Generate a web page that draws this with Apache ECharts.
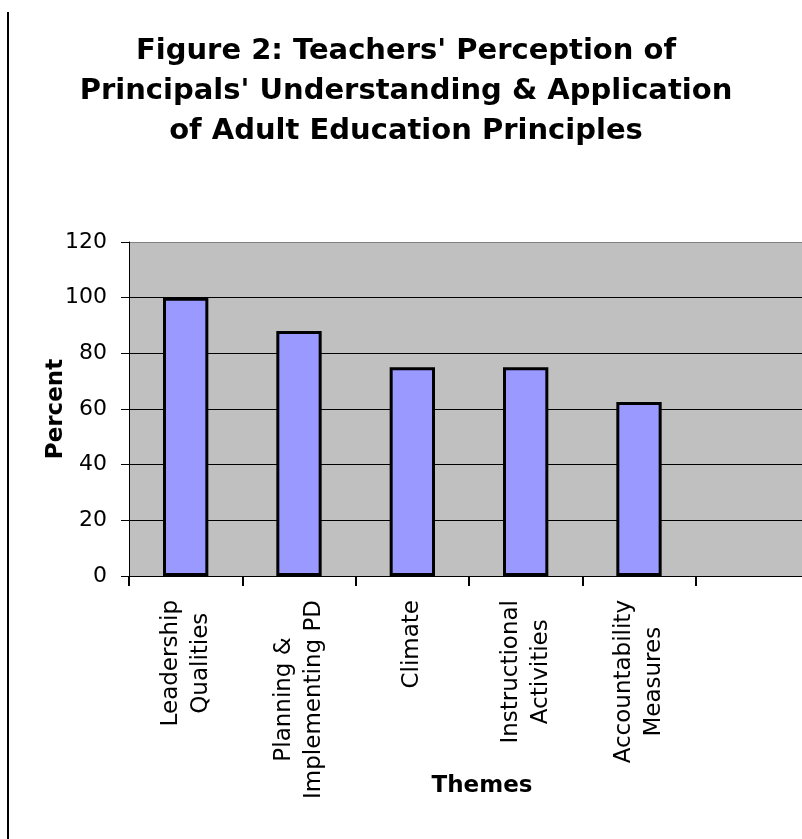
<!DOCTYPE html>
<html><head><meta charset="utf-8">
<script src="https://cdn.jsdelivr.net/npm/echarts@6/dist/echarts.min.js"></script>
<style>html,body{margin:0;padding:0;background:#fff;overflow:hidden;width:802px;height:839px}#c{width:809px;height:839px}</style>
</head><body><div id="c"></div>
<script>
const titleLines = ["Figure 2: Teachers' Perception of", "Principals' Understanding & Application", "of Adult Education Principles"];
const categories = ["Leadership\nQualities", "Planning &\nImplementing PD", "Climate", "Instructional\nActivities", "Accountability\nMeasures", ""];
const percentValues = [100, 88, 75, 75, 62.5, null];
const yMin = 0, yMax = 120, yStep = 20;
const xAxisTitle = "Themes";
const yAxisTitle = "Percent";

const FONT = 'DejaVu Sans';
const chart = echarts.init(document.getElementById('c'), null, {renderer: 'canvas'});
const option = {
  animation: false,
  backgroundColor: '#ffffff',
  title: {
    text: titleLines.join('\n'),
    left: 401, top: 26, textAlign: 'center',
    textStyle: {fontFamily: FONT, fontWeight: 'bold', fontSize: 29, lineHeight: 40, color: '#000'}
  },
  graphic: [{type: 'line', shape: {x1: 8, y1: 12, x2: 8, y2: 839}, style: {stroke: '#000', lineWidth: 2}}],
  grid: {left: 129, top: 242, right: 0, bottom: 263, show: true, backgroundColor: '#C0C0C0', borderWidth: 0, containLabel: false},
  xAxis: {
    type: 'category', data: categories, boundaryGap: true,
    name: xAxisTitle, nameLocation: 'middle', nameGap: 199, nameMoveOverlap: false,
    nameTextStyle: {fontFamily: FONT, fontWeight: 'bold', fontSize: 23, color: '#000', padding: [0, 0, 0, 26]},
    axisLine: {show: true, lineStyle: {color: '#000', width: 1}},
    axisTick: {show: true, length: 10, lineStyle: {color: '#000', width: 2}},
    axisLabel: {
      interval: 0, rotate: 90, margin: 24, color: '#000', fontFamily: FONT, fontSize: 23, lineHeight: 30,
      formatter: v => v ? v.split('\n').map(s => '{c|' + s + '}').join('\n') : '',
      rich: {c: {align: 'center', fontFamily: FONT, fontSize: 23, lineHeight: 30, color: '#000'}}
    },
    splitLine: {show: false}
  },
  yAxis: {
    type: 'value', min: yMin, max: yMax, interval: yStep,
    name: yAxisTitle, nameLocation: 'middle', nameGap: 61, nameMoveOverlap: false,
    nameTextStyle: {fontFamily: FONT, fontWeight: 'bold', fontSize: 23, color: '#000'},
    axisLine: {show: true, lineStyle: {color: '#000', width: 1}},
    axisTick: {show: true, length: 8, lineStyle: {color: '#000', width: 1}},
    axisLabel: {margin: 22, color: '#000', fontFamily: FONT, fontSize: 22},
    splitLine: {show: true, lineStyle: {color: ['#000', '#000', '#000', '#000', '#000', '#000', '#808080'], width: 1}}
  },
  series: [{
    type: 'bar', data: percentValues, barWidth: '40%',
    itemStyle: {color: '#9999FF', borderColor: '#000', borderWidth: 3}
  }]
};
chart.setOption(option);
</script></body></html>
